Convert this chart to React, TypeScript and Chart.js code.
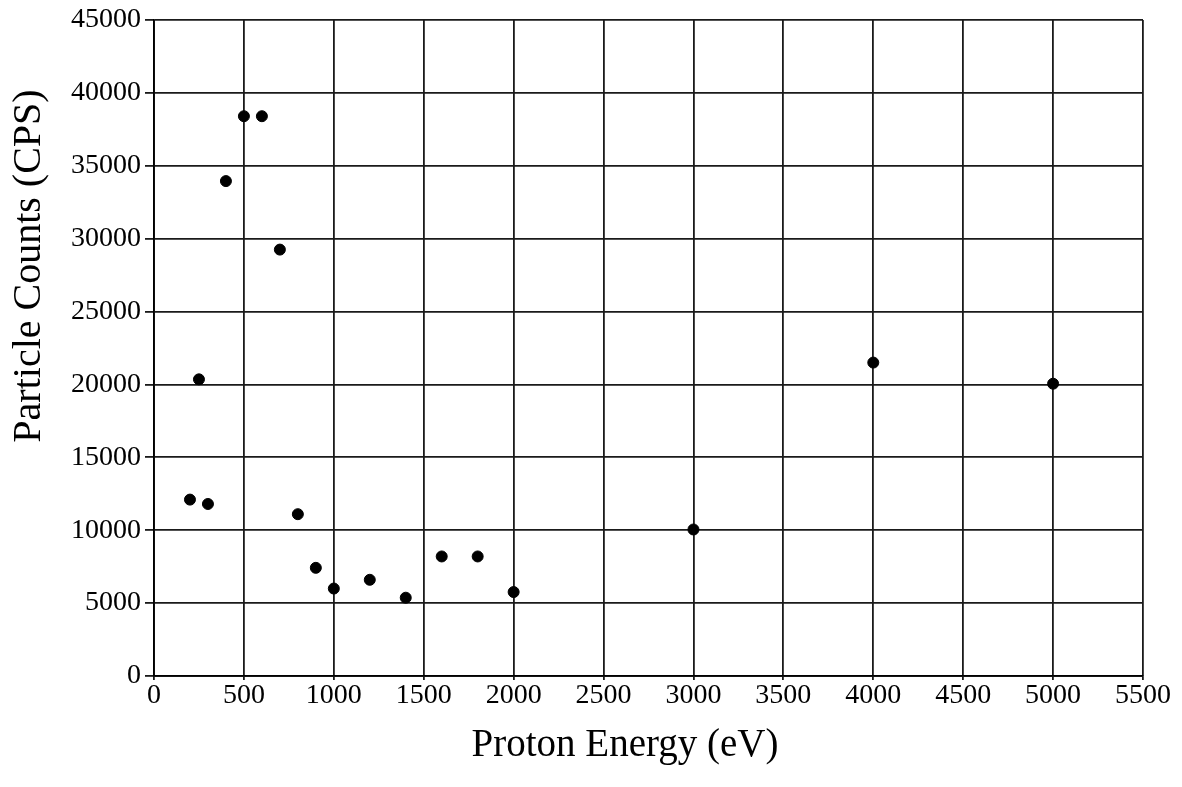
import React, { useEffect, useRef } from "react";
import { Chart, registerables } from "chart.js";

Chart.register(...registerables);

const energies = [200, 250, 300, 400, 500, 600, 700, 800, 900, 1000, 1200, 1400, 1600, 1800, 2000, 3000, 4000, 5000];
const counts = [12100, 20350, 11800, 33950, 38400, 38400, 29250, 11100, 7420, 6000, 6600, 5370, 8200, 8200, 5760, 10050, 21500, 20050];

const xTitle = "Proton Energy (eV)";
const yTitle = "Particle Counts (CPS)";

const W = 1182;
const H = 787;
const FONT = "'Liberation Serif', 'Times New Roman', serif";

const titlesPlugin = {
  id: "axisTitlesScan",
  afterDraw(chart: any) {
    const ctx = chart.ctx;
    ctx.save();
    ctx.fillStyle = "#000";
    ctx.textAlign = "center";
    ctx.textBaseline = "middle";
    ctx.font = `39px ${FONT}`;
    ctx.fillText(xTitle, 625, 746);
    ctx.translate(29, 266);
    ctx.rotate(-Math.PI / 2);
    ctx.font = `40px ${FONT}`;
    ctx.fillText(yTitle, 0, 0);
    ctx.restore();
  },
};

export default function App() {
  const ref = useRef<HTMLCanvasElement | null>(null);
  useEffect(() => {
    if (!ref.current) return;
    const chart = new Chart(ref.current, {
      type: "scatter",
      data: {
        datasets: [
          {
            data: energies.map((x, i) => ({ x, y: counts[i] })),
            backgroundColor: "#000",
            borderColor: "#000",
            pointRadius: 5.5,
            pointHoverRadius: 5.5,
          },
        ],
      },
      plugins: [titlesPlugin],
      options: {
        responsive: false,
        animation: false,
        layout: { padding: { top: 20, right: 39, left: 0, bottom: 0 } },
        plugins: { legend: { display: false }, tooltip: { enabled: false } },
        scales: {
          x: {
            type: "linear",
            min: 0,
            max: 5500,
            ticks: {
              stepSize: 500,
              color: "#000",
              font: { family: FONT, size: 28 },
              padding: -1,
              maxRotation: 0,
              callback: (v: any) => String(v),
            },
            grid: { color: "#1a1a1a", lineWidth: 1.8, tickLength: 4 },
            border: { color: "#000", width: 1.8 },
            afterFit: (s: any) => { s.height = 111; },
          },
          y: {
            type: "linear",
            min: 0,
            max: 45000,
            ticks: {
              stepSize: 5000,
              color: "#000",
              font: { family: FONT, size: 28, lineHeight: 1 },
              padding: 4,
              callback: (v: any) => String(v),
            },
            grid: { color: "#1a1a1a", lineWidth: 1.8, tickLength: 9 },
            border: { color: "#000", width: 1.8 },
            afterFit: (s: any) => { s.width = 154; },
          },
        },
      },
    });
    return () => chart.destroy();
  }, []);
  return (
    <div style={{ position: "absolute", left: 0, top: 0, width: W, height: H, background: "#fff" }}>
      <canvas ref={ref} width={W} height={H} />
    </div>
  );
}
